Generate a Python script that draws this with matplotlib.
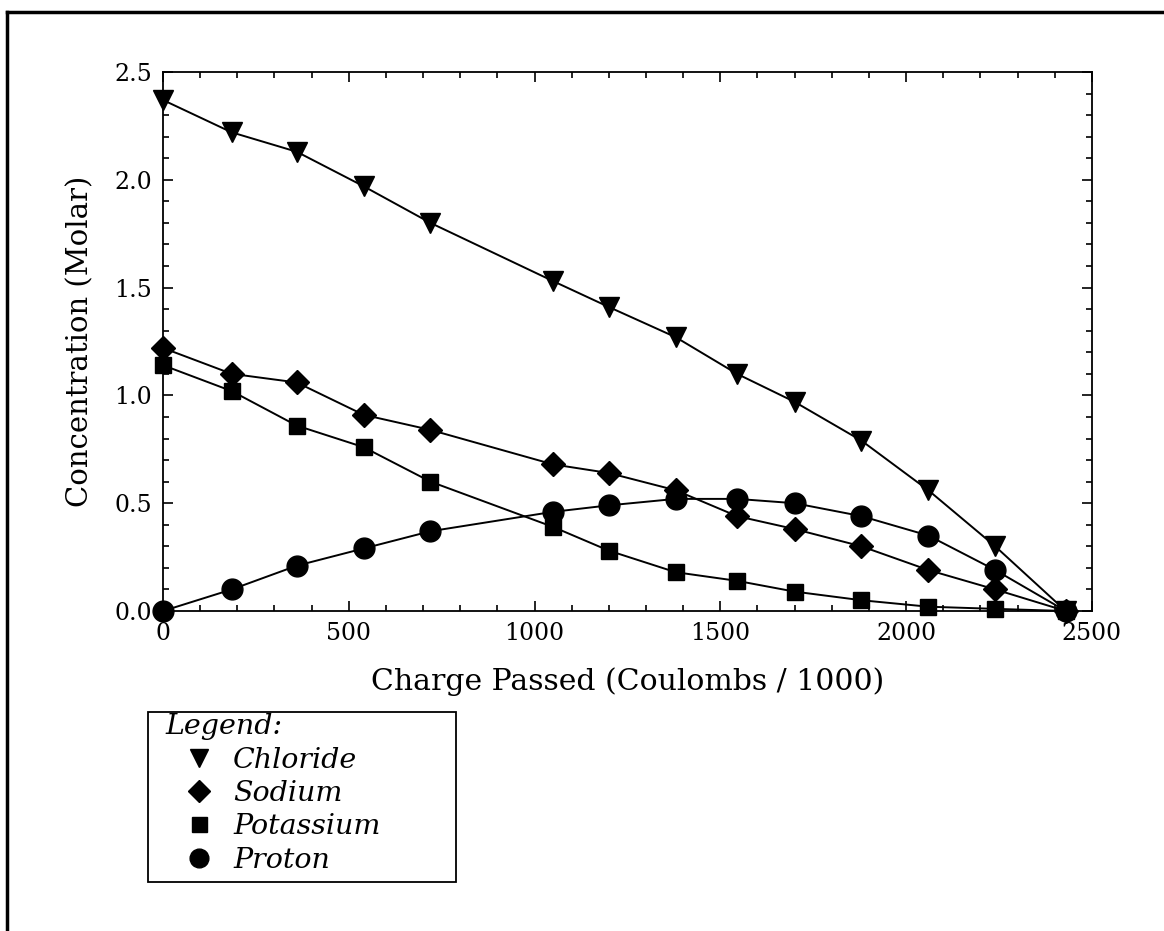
import matplotlib
matplotlib.use("Agg")
import matplotlib.pyplot as plt
from matplotlib.lines import Line2D
from matplotlib.patches import Rectangle
from matplotlib.ticker import MultipleLocator, FormatStrFormatter

# charge passed (coulombs / 1000)
charge = [0, 185, 360, 540, 720, 1050, 1200, 1380, 1545, 1700, 1880, 2060, 2240, 2430]

chloride = [2.37, 2.22, 2.13, 1.97, 1.80, 1.53, 1.41, 1.27, 1.10, 0.97, 0.79, 0.56, 0.30, 0.0]
sodium = [1.22, 1.10, 1.06, 0.91, 0.84, 0.68, 0.64, 0.56, 0.44, 0.38, 0.30, 0.19, 0.10, 0.0]
potassium = [1.14, 1.02, 0.86, 0.76, 0.60, 0.39, 0.28, 0.18, 0.14, 0.09, 0.05, 0.02, 0.01, 0.0]
proton = [0.0, 0.10, 0.21, 0.29, 0.37, 0.46, 0.49, 0.52, 0.52, 0.50, 0.44, 0.35, 0.19, 0.0]

names = ["Chloride", "Sodium", "Potassium", "Proton"]
markers = ["v", "D", "s", "o"]
sizes = [14, 12, 12, 15]

serif = "DejaVu Serif"

fig = plt.figure(figsize=(11.64, 9.31), dpi=100)
ax = fig.add_axes([0.140, 0.3437, 0.798, 0.579])

for ys, name, m, s in zip([chloride, sodium, potassium, proton], names, markers, sizes):
    ax.plot(charge, ys, color="black", linewidth=1.4, marker=m, markersize=s,
            markerfacecolor="black", markeredgecolor="black", label=name, clip_on=False)

ax.set_xlim(0, 2500)
ax.set_ylim(0, 2.5)
ax.xaxis.set_major_locator(MultipleLocator(500))
ax.xaxis.set_minor_locator(MultipleLocator(100))
ax.yaxis.set_major_locator(MultipleLocator(0.5))
ax.yaxis.set_minor_locator(MultipleLocator(0.1))
ax.yaxis.set_major_formatter(FormatStrFormatter("%.1f"))
ax.tick_params(which="both", direction="in", top=True, right=True, width=1.2)
ax.tick_params(which="major", length=7, labelsize=17, pad=8)
ax.tick_params(which="minor", length=4)
for lbl in ax.get_xticklabels() + ax.get_yticklabels():
    lbl.set_family(serif)
for sp in ax.spines.values():
    sp.set_linewidth(1.3)

ax.set_xlabel("Charge Passed (Coulombs / 1000)", family=serif, fontsize=21.5, labelpad=16)
ax.set_ylabel("Concentration (Molar)", family=serif, fontsize=21, labelpad=14)

# legend box drawn by hand so it keeps the tall frame of the original
fig.add_artist(Rectangle((0.1271, 0.0526), 0.2646, 0.1826, transform=fig.transFigure,
                         facecolor="none", edgecolor="black", linewidth=1.3))

leg = fig.legend(loc="upper left", bbox_to_anchor=(0.1405, 0.2352), title="Legend:",
                 frameon=False, prop={"family": serif, "style": "italic", "size": 20.5},
                 handlelength=2.4, handletextpad=0.0, labelspacing=0.22,
                 borderpad=0.05, alignment="left", borderaxespad=0, markerscale=0.9)
leg.get_title().set_fontsize(20.5)
leg.get_title().set_family(serif)
leg.get_title().set_style("italic")
for h in leg.legend_handles:
    h.set_linestyle("none")

# page frame (left and top edges only)
fig.add_artist(Line2D([0.006, 0.006], [0.0, 0.987], color="black", linewidth=2.5))
fig.add_artist(Line2D([0.006, 1.0], [0.987, 0.987], color="black", linewidth=2.5))

fig.savefig("out.png", dpi=100)
